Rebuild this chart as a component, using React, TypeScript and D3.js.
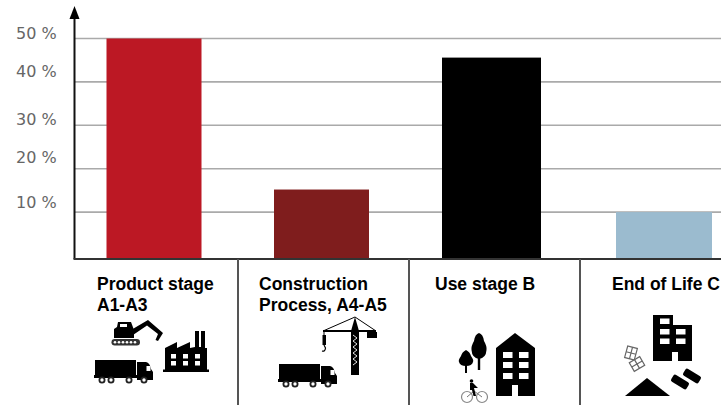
import React from "react";
import * as d3 from "d3";

const W = 721;
const H = 405;

// Life-cycle stages and their share of the total, in percent
const stages = ["Product stage A1-A3", "Construction Process, A4-A5", "Use stage B", "End of Life C"];
const shares = [50, 15.2, 45.6, 10];
const barColors = ["#bc1824", "#7f1d1d", "#000000", "#9bbbcf"];
const tickValues = [50, 40, 30, 20, 10];
const tickLabels = ["50 %", "40 %", "30 %", "20 %", "10 %"];
const stageLines = [["Product stage", "A1-A3"], ["Construction", "Process, A4-A5"], ["Use stage B"], ["End of Life C"]];

// Hand-set layout of the panel below the axis
const barCenters = [154, 321.5, 491.5, 664];
const barWidths = [95, 95, 99, 96];
const captionX = [97, 259, 435, 612];
const dividerX = [238, 409, 580];
const tickLabelShift = [-5.5, -11, -6, -11, -10];

const y = d3.scaleLinear().domain([0, 50]).range([255.5, 38.5]);
const centerOf = d3.scaleOrdinal<string, number>().domain(stages).range(barCenters);
const widthOf = d3.scaleOrdinal<string, number>().domain(stages).range(barWidths);
const BASE_Y = 258.5;

// Lorry drawn at its own origin, the rear-left corner of the box
function Truck({ x, y: ty }: { x: number; y: number }) {
  return (
    <g transform={`translate(${x},${ty})`}>
      <rect x={0} y={0} width={41} height={16.5} fill="#000" />
      <rect x={-1} y={15} width={58} height={3} fill="#000" />
      <path d="M42,2 L51,2 Q55,3 56,9 L58,12 L58,20 L42,20 Z" fill="#000" />
      <rect x={51.5} y={6} width={4} height={5} fill="#fff" />
      {[7, 16, 34, 49].map((wx) => (
        <circle key={wx} cx={wx} cy={20} r={2.6} fill="#fff" stroke="#222" strokeWidth={1.8} />
      ))}
    </g>
  );
}

function Excavator() {
  return (
    <g>
      <path d="M114,338 L114,329 L117,327 L118,322 L131,322 L134,330 L134,338 Z" fill="#000" />
      <rect x={120} y={324} width={7} height={3} fill="#fff" />
      <path d="M131,330 L148,320 L163,333 L158,341 L155.5,340 L158,334 L147,325.5 L133,335 Z" fill="#000" />
      <rect x={111.5} y={339} width={28.5} height={6.5} rx={3.2} fill="#333" />
      {d3.range(115, 139, 4).map((cx) => (
        <circle key={cx} cx={cx} cy={342.2} r={1.3} fill="#fff" />
      ))}
    </g>
  );
}

function Factory() {
  const cols = [171, 183, 195];
  const rows = [354, 361];
  return (
    <g>
      <path d="M165,348 L177,342 L177,348 L190,342 L190,348 L195,347 L195,331 L199,331 L199,347 L201,347 L201,331 L205,331 L205,348 L207,348 L207,370 L165,370 Z" fill="#000" />
      <rect x={163} y={369.5} width={46} height={2.5} fill="#000" />
      {rows.map((ry) =>
        cols.map((cx) => <rect key={`${cx}-${ry}`} x={cx} y={ry} width={5} height={4.5} fill="#fff" />),
      )}
    </g>
  );
}

function Crane() {
  return (
    <g>
      <path d="M351,375 L351,331 L355,317 L359,331 L359,375 Z" fill="#000" />
      <path d="M353,335 L357,338 L353,341 L357,344 L353,347 L357,350 L353,353 L357,356 L353,359 L357,362 L353,365" fill="none" stroke="#fff" strokeWidth={0.9} />
      <path d="M323,331 L376,331" stroke="#000" strokeWidth={2} />
      <path d="M323,331 L355,317 L376,331" fill="none" stroke="#000" strokeWidth={1} />
      <rect x={367} y={332} width={10} height={6} fill="#000" />
      <path d="M324,331 L324,341" stroke="#000" strokeWidth={1} />
      <rect x={322.5} y={335} width={3.5} height={10} fill="#000" />
      <path d="M324,345 L325.5,348 Q325,352 322,351" fill="none" stroke="#000" strokeWidth={1.2} />
    </g>
  );
}

function TreesAndBuilding() {
  const winX = [503, 519];
  const winY = [352, 362, 373];
  return (
    <g>
      <path d="M479,333 Q483,334 484,341 Q487,346 486.5,350 Q486,358 479,359 Q472,358 471.5,350 Q471,346 474,341 Q475,334 479,333 Z" fill="#000" />
      <rect x={477.8} y={355} width={2.4} height={15} fill="#000" />
      <path d="M466,350 Q470,352 471,356 Q474,360 473,362 Q472,366 466,366 Q460,366 459,362 Q458,360 461,356 Q462,352 466,350 Z" fill="#000" />
      <rect x={465} y={362} width={2} height={11} fill="#000" />
      <path d="M496,396 L496,348 L515,333 L535,348 L535,396 L518,396 L518,385 L512,385 L512,396 Z" fill="#000" />
      {winY.map((wy) =>
        winX.map((wx) => <rect key={`${wx}-${wy}`} x={wx} y={wy} width={9.5} height={6} fill="#fff" />),
      )}
      <circle cx={467} cy={397} r={5.5} fill="none" stroke="#888" strokeWidth={1.2} />
      <circle cx={482} cy={397} r={5.5} fill="none" stroke="#888" strokeWidth={1.2} />
      <path d="M467,397 L474,391 L482,397" fill="none" stroke="#777" strokeWidth={1} />
      <circle cx={471.5} cy={381} r={1.8} fill="#000" />
      <path d="M470,383 L473,383 L478,388 L474,388 L476,396 L473.5,396 L472,390 L470,390 Z" fill="#000" />
    </g>
  );
}

function Demolition() {
  const tower = [[660, 318.5], [660, 329], [660, 338.5], [676, 329], [676, 338.5]];
  return (
    <g>
      <path d="M653,361 L653,315 L673,315 L673,325 L692,325 L692,361 L678,361 L678,352 L672,352 L672,361 Z" fill="#000" />
      {tower.map(([wx, wy]) => (
        <rect key={`${wx}-${wy}`} x={wx} y={wy} width={9.5} height={5.5} fill="#fff" />
      ))}
      <g transform="rotate(15 631 353)" fill="#fff" stroke="#666" strokeWidth={1.2}>
        <rect x={626} y={347} width={10} height={12} />
        <path d="M631,347 V359 M626,353 H636" fill="none" />
      </g>
      <g transform="rotate(-30 637 364)" fill="#fff" stroke="#666" strokeWidth={1.2}>
        <rect x={631} y={359} width={12} height={10} />
        <path d="M637,359 V369 M631,364 H643" fill="none" />
      </g>
      <path d="M625,396 L647,378 L670,396 Z" fill="#000" />
      <rect x={671} y={378} width={18} height={8} rx={2} fill="#000" transform="rotate(32 680 382)" />
      <rect x={683} y={372} width={18} height={8} rx={2} fill="#000" transform="rotate(32 692 376)" />
    </g>
  );
}

export default function App() {
  return (
    <svg
      width={W}
      height={H}
      viewBox={`0 0 ${W} ${H}`}
      style={{ position: "fixed", left: 0, top: 0, background: "#fff", display: "block" }}
    >
      {/* horizontal grid */}
      {tickValues.map((v) => (
        <line key={v} x1={75} x2={W} y1={y(v)} y2={y(v)} stroke="#aaaaaa" strokeWidth={1.6} />
      ))}

      {/* stage bars */}
      {stages.map((s, i) => (
        <rect
          key={s}
          x={centerOf(s) - widthOf(s) / 2}
          y={y(shares[i])}
          width={widthOf(s)}
          height={BASE_Y - y(shares[i])}
          fill={barColors[i]}
        />
      ))}

      {/* tick labels */}
      {tickValues.map((v, i) => (
        <text
          key={v}
          x={16}
          y={y(v) + tickLabelShift[i]}
          dy="0.36em"
          fontFamily="DejaVu Sans"
          fontSize={16}
          fill="#666"
        >
          {tickLabels[i]}
        </text>
      ))}

      {/* axes with arrow head */}
      <line x1={74.5} x2={74.5} y1={14} y2={259} stroke="#111" strokeWidth={2} />
      <path d="M74.5,6 L79.5,19 L69.5,19 Z" fill="#000" />
      <line x1={73.5} x2={W} y1={259} y2={259} stroke="#333" strokeWidth={2} />

      {/* dividers between stages */}
      {dividerX.map((x) => (
        <line key={x} x1={x} x2={x} y1={259} y2={H} stroke="#555" strokeWidth={2} />
      ))}

      {/* stage captions */}
      {stageLines.map((lines, i) => (
        <text
          key={stages[i]}
          fontFamily="Liberation Sans"
          fontWeight="bold"
          fontSize={17.5}
          fill="#000"
        >
          {lines.map((line, j) => (
            <tspan key={line} x={captionX[i]} y={289.5 + j * 21.5}>
              {line}
            </tspan>
          ))}
        </text>
      ))}

      {/* stage pictograms */}
      <Excavator />
      <Factory />
      <Truck x={95} y={360} />
      <Crane />
      <Truck x={279} y={364} />
      <TreesAndBuilding />
      <Demolition />
    </svg>
  );
}
